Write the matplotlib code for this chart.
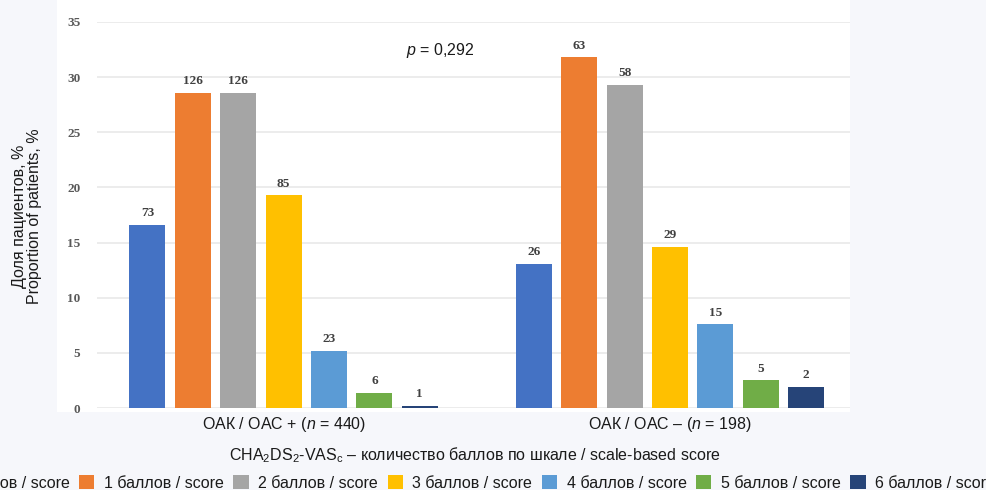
import matplotlib
matplotlib.use("Agg")
import matplotlib.pyplot as plt
from matplotlib.patches import Rectangle, Patch
import numpy as np

plt.rcParams['font.family'] = ['Liberation Sans', 'DejaVu Sans']
plt.rcParams['mathtext.fontset'] = 'custom'
plt.rcParams['mathtext.rm'] = 'Liberation Sans'
plt.rcParams['mathtext.it'] = 'Liberation Sans:italic'

# ---- data ----
groups = ["ОАК / ОАС + ($n$ = 440)", "ОАК / ОАС – ($n$ = 198)"]
score_labels = ["0 баллов / score", "1 баллов / score", "2 баллов / score", "3 баллов / score",
                "4 баллов / score", "5 баллов / score", "6 баллов / score"]
pct_oac_plus = [16.6, 28.6, 28.6, 19.3, 5.2, 1.4, 0.2]
pct_oac_minus = [13.1, 31.8, 29.3, 14.6, 7.6, 2.5, 1.9]
counts_oac_plus = [73, 126, 126, 85, 23, 6, 1]
counts_oac_minus = [26, 63, 58, 29, 15, 5, 2]
yticks = [0, 5, 10, 15, 20, 25, 30, 35]
colors = ["#4472C4", "#ED7D31", "#A5A5A5", "#FFC000", "#5B9BD5", "#70AD47", "#264478"]

W, H = 986, 490
FS = 11.5
fig = plt.figure(figsize=(W / 100, H / 100), dpi=100)
fig.patch.set_facecolor("#f6f7fb")
fig.add_artist(Rectangle((57 / W, 1 - 412 / H), 793 / W, 412 / H,
                         transform=fig.transFigure, facecolor="white",
                         edgecolor="none", zorder=0))

ax = fig.add_axes([97 / W, 1 - 408 / H, (850 - 97) / W, (408 - 22) / H])
ax.set_facecolor("white")

slot = 0.1175
width = 0.093
xg = np.arange(len(groups))
series = list(zip(pct_oac_plus, pct_oac_minus))
counts = list(zip(counts_oac_plus, counts_oac_minus))
for j in range(7):
    xs = xg + (j - 3) * slot
    bars = ax.bar(xs, series[j], width=width, color=colors[j], label=score_labels[j], zorder=3)
    for b, c in zip(bars, counts[j]):
        ax.annotate(str(c), (b.get_x() + b.get_width() / 2, b.get_height()),
                    xytext=(0, 4), textcoords="offset points", ha="center", va="bottom",
                    fontsize=9.5, fontweight="bold", family="Liberation Serif",
                    color="#404040")

ax.set_xlim(-0.483, 1.466)
ax.set_ylim(0, 35)
ax.set_yticks(yticks)
ax.set_yticklabels([str(t) for t in yticks], fontsize=9.5, fontweight="bold",
                   family="Liberation Serif", color="#595959")
ax.set_xticks(xg)
ax.set_xticklabels(groups, fontsize=FS, color="#1a1a1a")
ax.tick_params(axis="y", length=0, pad=12)
ax.tick_params(axis="x", length=0, pad=5)
ax.grid(axis="y", color="#ebebeb", linewidth=1.3, zorder=0)
for s in ax.spines.values():
    s.set_visible(False)

ax.text(440 / W, 1 - 50 / H, "$p$ = 0,292", transform=fig.transFigure,
        ha="center", va="center", fontsize=FS, color="#1a1a1a")

fig.text(475 / W, 1 - 455 / H,
         r"CHA$_\mathrm{2}$DS$_\mathrm{2}$-VAS$_\mathrm{c}$ – количество баллов по шкале / scale-based score",
         ha="center", va="center", fontsize=FS, color="#1a1a1a")

fig.text(27 / W, 1 - 216 / H, "Доля пациентов, %\nProportion of patients, %",
         rotation=90, ha="center", va="center", fontsize=FS, color="#1a1a1a",
         linespacing=1.0, multialignment="center")

handles = [Patch(facecolor=c) for c in colors]
fig.legend(handles, score_labels, loc="center", bbox_to_anchor=(460 / W, 1 - 483 / H),
           ncol=7, frameon=False, fontsize=FS, handlelength=0.95, handleheight=0.95,
           handletextpad=0.6, columnspacing=0.6, labelcolor="#1a1a1a")

fig.savefig("out.png", dpi=100, facecolor=fig.get_facecolor())
